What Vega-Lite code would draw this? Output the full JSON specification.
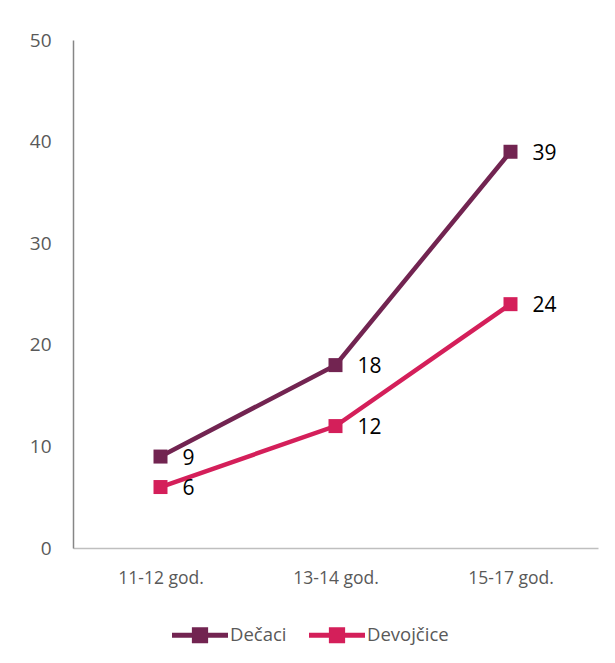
{
  "$schema": "https://vega.github.io/schema/vega-lite/v6.json",
  "width": 525,
  "height": 508,
  "autosize": "none",
  "padding": {"left": 73, "top": 40, "right": 17, "bottom": 115},
  "background": "white",
  "config": {
    "font": "Open Sans",
    "view": {"stroke": null}
  },
  "data": {
    "values": [
      {"age": "11-12 god.", "group": "Dečaci", "value": 9},
      {"age": "13-14 god.", "group": "Dečaci", "value": 18},
      {"age": "15-17 god.", "group": "Dečaci", "value": 39},
      {"age": "11-12 god.", "group": "Devojčice", "value": 6},
      {"age": "13-14 god.", "group": "Devojčice", "value": 12},
      {"age": "15-17 god.", "group": "Devojčice", "value": 24}
    ]
  },
  "encoding": {
    "x": {
      "field": "age", "type": "ordinal", "scale": {"type": "point", "padding": 0.5},
      "axis": {"title": null, "labelAngle": 0, "labelFontSize": 17.5, "labelColor": "#595959", "labelPadding": 21, "ticks": false, "domainColor": "#bfbfbf", "domainWidth": 1.5, "grid": false}
    },
    "y": {
      "field": "value", "type": "quantitative", "scale": {"domain": [0, 50], "nice": false},
      "axis": {"title": null, "values": [0, 10, 20, 30, 40, 50], "labelFontSize": 19, "labelColor": "#595959", "labelPadding": 22, "ticks": false, "domainColor": "#868686", "domainWidth": 1.5, "grid": false}
    },
    "color": {
      "field": "group", "type": "nominal",
      "scale": {"domain": ["Dečaci", "Devojčice"], "range": ["#722451", "#D41F5A"]},
      "legend": {
        "title": null, "orient": "none", "legendX": 99, "legendY": 567, "direction": "horizontal",
        "labelFontSize": 18.5, "labelColor": "#595959", "labelOffset": 2,
        "symbolType": "M-1,-0.09H1V0.09H-1Z M-0.29,-0.29H0.29V0.29H-0.29Z",
        "symbolSize": 3136, "symbolStrokeWidth": 0, "symbolOpacity": 1, "columnPadding": 22
      }
    }
  },
  "layer": [
    {
      "mark": {"type": "line", "strokeWidth": 4.5, "point": {"shape": "square", "size": 196, "filled": true, "opacity": 1}}
    },
    {
      "mark": {"type": "text", "align": "left", "baseline": "middle", "dx": 22, "dy": 2, "fontSize": 21, "color": "black"},
      "encoding": {"text": {"field": "value", "type": "quantitative"}, "color": {"value": "black"}}
    }
  ]
}
